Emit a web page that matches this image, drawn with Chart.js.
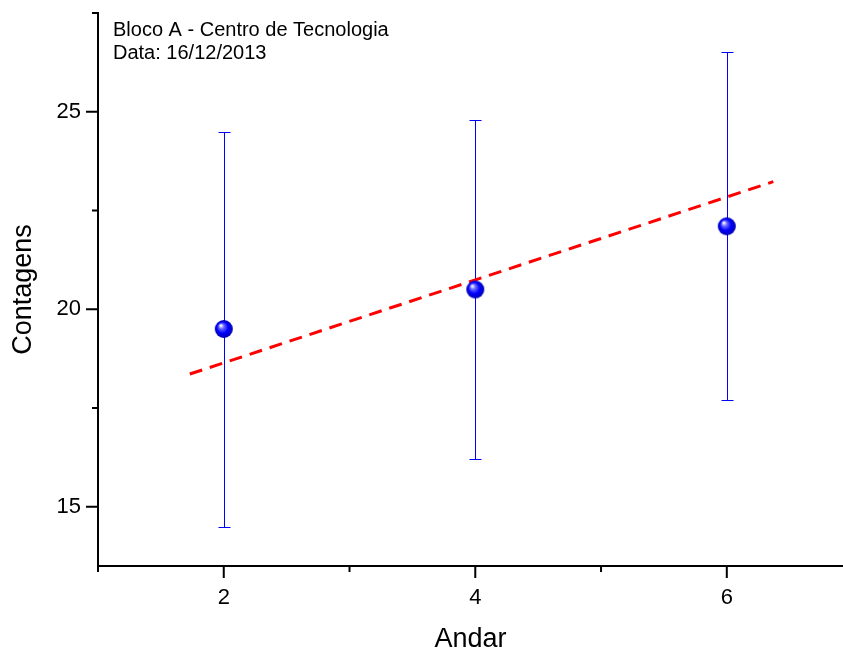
<!DOCTYPE html>
<html>
<head>
<meta charset="utf-8">
<script src="https://cdn.jsdelivr.net/npm/chart.js@4/dist/chart.umd.min.js"></script>
<style>
  html, body { margin: 0; padding: 0; background: #fff; }
  canvas { display: block; }
</style>
</head>
<body>
<canvas id="andarChart" width="843" height="651"></canvas>
<script>
// floors and counts
const andar = [2, 4, 6];
const contagens = [19.5, 20.5, 22.1];
const errLow = [14.5, 16.2, 17.7];
const errHigh = [24.5, 24.8, 26.5];

// fitted line end points
const fitX = [1.73, 6.37];
const fitY = [18.36, 23.23];

const xMajor = [2, 4, 6];
const xMinor = [1, 3, 5, 7];
const yMajor = [15, 20, 25];
const yMinor = [17.5, 22.5, 27.5];

const notes = ['Bloco A - Centro de Tecnologia', 'Data: 16/12/2013'];

const FONT = '"Liberation Sans", Arial, sans-serif';

// little shaded ball used as the point marker
function makeBall(r) {
    const c = document.createElement('canvas');
    c.width = c.height = r * 2 + 2;
    const g = c.getContext('2d');
    const cx = r + 1, cy = r + 1;
    const grad = g.createRadialGradient(cx - r * 0.35, cy - r * 0.4, 0.5, cx, cy, r);
    grad.addColorStop(0, '#ffffff');
    grad.addColorStop(0.25, '#6a6aff');
    grad.addColorStop(0.6, '#0000ff');
    grad.addColorStop(1, '#0000b0');
    g.fillStyle = grad;
    g.beginPath();
    g.arc(cx, cy, r, 0, Math.PI * 2);
    g.fill();
    return c;
}

const errorBars = {
    id: 'errorBars',
    beforeDatasetsDraw(chart) {
        const { ctx, scales: { x, y } } = chart;
        ctx.save();
        ctx.strokeStyle = '#0000ff';
        ctx.lineWidth = 1;
        andar.forEach((v, i) => {
            const px = Math.round(x.getPixelForValue(v)) + 0.5;
            const top = Math.round(y.getPixelForValue(errHigh[i])) + 0.5;
            const bot = Math.round(y.getPixelForValue(errLow[i])) + 0.5;
            ctx.beginPath();
            ctx.moveTo(px, top); ctx.lineTo(px, bot);
            ctx.moveTo(px - 6, top); ctx.lineTo(px + 6, top);
            ctx.moveTo(px - 6, bot); ctx.lineTo(px + 6, bot);
            ctx.stroke();
        });
        ctx.restore();
    }
};

// outward ticks, long for major, short for minor
const axisTicks = {
    id: 'axisTicks',
    afterDraw(chart) {
        const { ctx, chartArea: a, scales: { x, y } } = chart;
        ctx.save();
        ctx.strokeStyle = '#000';
        ctx.lineWidth = 2;
        ctx.beginPath();
        xMajor.forEach(v => { const p = x.getPixelForValue(v); ctx.moveTo(p, a.bottom); ctx.lineTo(p, a.bottom + 12); });
        xMinor.forEach(v => { if (v > x.max) return; const p = x.getPixelForValue(v); ctx.moveTo(p, a.bottom); ctx.lineTo(p, a.bottom + 6); });
        yMajor.forEach(v => { const p = y.getPixelForValue(v); ctx.moveTo(a.left, p); ctx.lineTo(a.left - 12, p); });
        yMinor.forEach(v => { const p = y.getPixelForValue(v); ctx.moveTo(a.left, p); ctx.lineTo(a.left - 6, p); });
        ctx.stroke();

        ctx.fillStyle = '#000';
        ctx.font = '20px ' + FONT;
        ctx.textBaseline = 'alphabetic';
        ctx.fillText(notes[0], a.left + 15, 36);
        ctx.fillText(notes[1], a.left + 15, 59);
        ctx.restore();
    }
};

new Chart(document.getElementById('andarChart'), {
    type: 'scatter',
    data: {
        datasets: [
            {
                label: 'Contagens',
                data: andar.map((v, i) => ({ x: v, y: contagens[i] })),
                pointStyle: makeBall(9),
                pointRadius: 9,
                pointHoverRadius: 9,
            },
            {
                label: 'Ajuste',
                data: fitX.map((v, i) => ({ x: v, y: fitY[i] })),
                showLine: true,
                borderColor: '#ff0000',
                borderWidth: 3,
                borderDash: [13, 8],
                pointRadius: 0,
                fill: false,
            },
        ],
    },
    options: {
        responsive: false,
        animation: false,
        layout: { autoPadding: false, padding: { top: 13, left: 0, right: 0, bottom: 0 } },
        plugins: {
            legend: { display: false },
            tooltip: { enabled: false },
        },
        scales: {
            x: {
                type: 'linear',
                min: 1,
                max: 6.924,
                afterBuildTicks: s => { s.ticks = xMajor.map(v => ({ value: v })); },
                afterFit: s => { s.height = 85; s.paddingLeft = 0; s.paddingRight = 0; },
                border: { display: true, color: '#000', width: 2 },
                grid: { drawOnChartArea: false, drawTicks: true, tickLength: 12, tickColor: 'rgba(0,0,0,0)' },
                ticks: { color: '#000', font: { family: FONT, size: 22 }, padding: 7, maxRotation: 0 },
                title: { display: true, text: 'Andar', color: '#000', font: { family: FONT, size: 27 }, padding: { top: 0, bottom: -5 } },
            },
            y: {
                type: 'linear',
                min: 13.5,
                max: 27.5,
                afterBuildTicks: s => { s.ticks = yMajor.map(v => ({ value: v })); },
                afterFit: s => { s.width = 98; s.paddingTop = 0; s.paddingBottom = 0; },
                border: { display: true, color: '#000', width: 2 },
                grid: { drawOnChartArea: false, drawTicks: true, tickLength: 12, tickColor: 'rgba(0,0,0,0)' },
                ticks: { color: '#000', font: { family: FONT, size: 22 }, padding: 5 },
                title: { display: true, text: 'Contagens', color: '#000', font: { family: FONT, size: 27 }, padding: { top: 7, bottom: 0 } },
            },
        },
    },
    plugins: [errorBars, axisTicks],
});
</script>
</body>
</html>
